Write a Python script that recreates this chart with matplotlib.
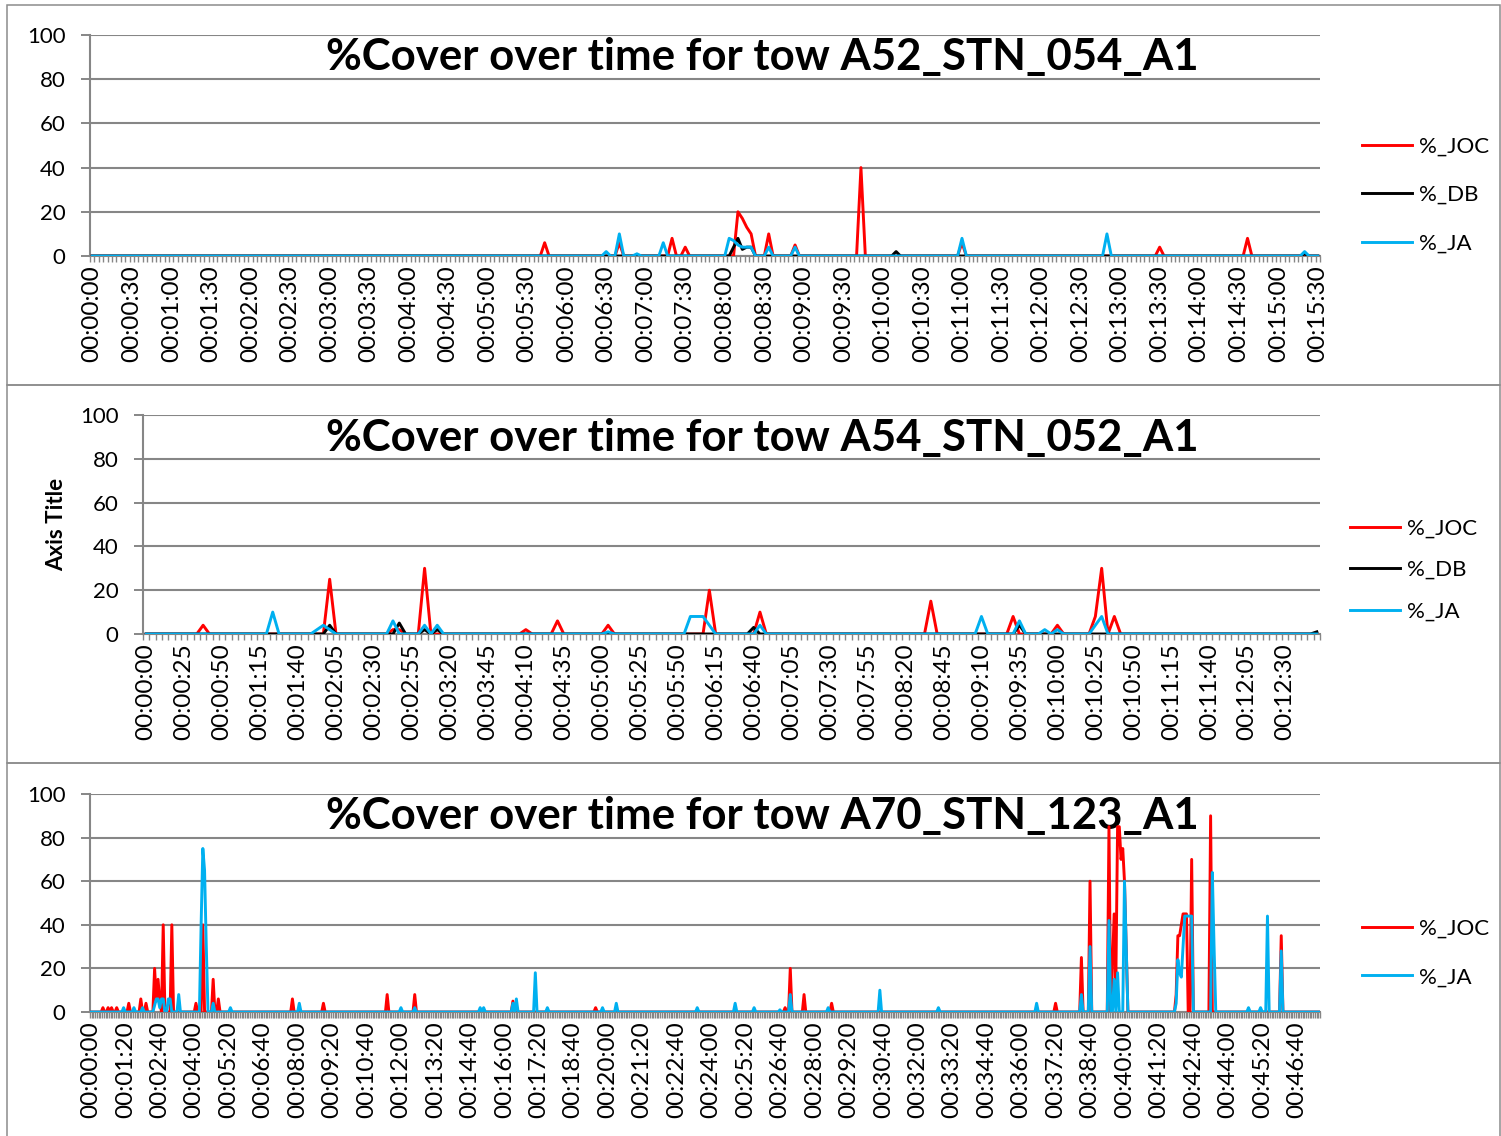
import numpy as np
import matplotlib
matplotlib.use("Agg")
import matplotlib.pyplot as plt
from matplotlib.patches import Rectangle

plt.rcParams['font.family'] = ['Lato', 'DejaVu Sans']

# ---- data: sample number along each tow and % cover at that sample (all other samples are 0) ----
# tow A52_STN_054_A1
p1_n = 280
p1_labels = ("00:00:00 00:00:30 00:01:00 00:01:30 00:02:00 00:02:30 00:03:00 00:03:30 "
             "00:04:00 00:04:30 00:05:00 00:05:30 00:06:00 00:06:30 00:07:00 00:07:30 "
             "00:08:00 00:08:30 00:09:00 00:09:30 00:10:00 00:10:30 00:11:00 00:11:30 "
             "00:12:00 00:12:30 00:13:00 00:13:30 00:14:00 00:14:30 00:15:00 00:15:30").split()
p1_joc_at = [103, 120, 132, 135, 147, 148, 149, 150, 154, 160, 175, 198, 243, 263]
p1_joc = [6, 6, 8, 4, 20, 17, 13, 10, 10, 5, 40, 6, 4, 8]
p1_db_at = [146, 147, 148, 149, 150, 183, 276]
p1_db = [4, 8, 3, 4, 4, 2, 1]
p1_ja_at = [117, 120, 124, 130, 145, 146, 147, 148, 149, 150, 154, 160, 198, 231, 276]
p1_ja = [2, 10, 1, 6, 8, 7, 5, 4, 4, 4, 4, 4, 8, 10, 2]

# tow A54_STN_052_A1
p2_n = 186
p2_labels = ("00:00:00 00:00:25 00:00:50 00:01:15 00:01:40 00:02:05 00:02:30 00:02:55 "
             "00:03:20 00:03:45 00:04:10 00:04:35 00:05:00 00:05:25 00:05:50 00:06:15 "
             "00:06:40 00:07:05 00:07:30 00:07:55 00:08:20 00:08:45 00:09:10 00:09:35 "
             "00:10:00 00:10:25 00:10:50 00:11:15 00:11:40 00:12:05 00:12:30").split()
p2_joc_at = [9, 29, 39, 40, 44, 60, 65, 73, 89, 97, 124, 137, 144, 150, 151, 153]
p2_joc = [4, 25, 2, 2, 30, 2, 6, 4, 20, 10, 15, 8, 4, 8, 30, 8]
p2_db_at = [29, 40, 44, 46, 96, 138, 185]
p2_db = [4, 5, 2, 2, 3, 4, 1]
p2_ja_at = [20, 27, 28, 29, 39, 44, 46, 73, 86, 87, 88, 89, 97, 132, 138, 142, 144, 150, 151]
p2_ja = [10, 2, 4, 2, 6, 4, 4, 1, 8, 8, 8, 4, 4, 8, 6, 2, 2, 4, 8]

# tow A70_STN_123_A1
p3_n = 714
p3_labels = ("00:00:00 00:01:20 00:02:40 00:04:00 00:05:20 00:06:40 00:08:00 00:09:20 "
             "00:10:40 00:12:00 00:13:20 00:14:40 00:16:00 00:17:20 00:18:40 00:20:00 "
             "00:21:20 00:22:40 00:24:00 00:25:20 00:26:40 00:28:00 00:29:20 00:30:40 "
             "00:32:00 00:33:20 00:34:40 00:36:00 00:37:20 00:38:40 00:40:00 00:41:20 "
             "00:42:40 00:44:00 00:45:20 00:46:40").split()
p3_joc_at = [7, 10, 12, 15, 22, 29, 32, 37, 38, 39, 40, 42, 47, 61, 65, 71, 74, 117, 135,
             172, 188, 245, 293, 403, 406, 414, 430, 560, 575, 580, 591, 593, 594, 595,
             596, 597, 598, 599, 600, 601, 630, 631, 632, 633, 634, 635, 636, 639, 650, 691]
p3_joc = [2, 2, 2, 2, 4, 6, 4, 20, 5, 15, 5, 40, 40, 4, 40, 15, 6, 6, 4,
          8, 8, 5, 2, 2, 20, 8, 4, 4, 25, 60, 85, 20, 45, 15,
          85, 85, 70, 75, 60, 30, 8, 35, 35, 40, 45, 45, 45, 70, 90, 35]
p3_ja_at = [19, 25, 30, 37, 38, 39, 40, 41, 42, 45, 46, 51, 64, 65, 66, 67, 71, 81, 121,
            180, 188, 226, 228, 245, 247, 258, 265, 297, 305, 352, 374, 385, 400, 406,
            428, 458, 492, 549, 575, 580, 591, 594, 596, 600, 601, 630, 631, 632, 633,
            634, 635, 636, 637, 638, 639, 651, 652, 672, 679, 683, 691]
p3_ja = [2, 2, 2, 3, 6, 6, 2, 6, 6, 6, 6, 8, 40, 75, 65, 30, 4, 2, 4,
         2, 2, 2, 2, 4, 6, 18, 2, 2, 4, 2, 4, 2, 1, 8,
         2, 10, 2, 4, 8, 30, 42, 15, 18, 60, 30, 4, 24, 18, 16,
         30, 44, 44, 44, 44, 44, 64, 30, 2, 2, 44, 28]

# ---- layout ----
W, H = 1501, 1136
GRID = '#868686'
COLORS = {'%_JOC': '#FF0000', '%_DB': '#000000', '%_JA': '#00B0F0'}
FS = 16

fig = plt.figure(figsize=(W / 100, H / 100), dpi=100)


def px_rect(x0, x1, ytop, ybot):
    return [x0 / W, 1 - ybot / H, (x1 - x0) / W, (ybot - ytop) / H]


def panel(rect, n, every, labels, series, title, title_y, leg_x, leg_y, leg_space):
    ax = fig.add_axes(rect)
    x = np.arange(n)
    for name, at, vals in series:
        y = np.zeros(n)
        y[at] = vals
        ax.plot(x, y, color=COLORS[name], lw=2.1, label=name, zorder=3)
    ax.set_xlim(-0.5, n - 0.5)
    ax.set_ylim(0, 100)
    ax.set_yticks(range(0, 101, 20))
    ax.set_xticks(np.arange(len(labels)) * every)
    ax.set_xticklabels(labels, rotation=90, fontsize=17.5)
    ax.set_xticks(np.arange(n + 1) - 0.5, minor=True)
    ax.tick_params(axis='x', which='major', length=0, pad=7)
    ax.tick_params(axis='x', which='minor', length=4.5, width=1.0, color=GRID)
    ax.tick_params(axis='y', length=6.5, width=1.4, color=GRID, pad=11, labelsize=FS)
    ax.grid(axis='y', color=GRID, lw=1.5)
    ax.set_axisbelow(True)
    for s in ('top', 'right'):
        ax.spines[s].set_visible(False)
    for s in ('left', 'bottom'):
        ax.spines[s].set_color(GRID)
        ax.spines[s].set_linewidth(1.5)
    ax.text(762 / W, 1 - title_y / H, title, transform=fig.transFigure, ha='center',
            va='center', fontsize=31.5, fontweight='bold', zorder=1)
    ax.legend(loc='center left', bbox_to_anchor=(leg_x / W, 1 - leg_y / H),
              bbox_transform=fig.transFigure, frameon=False, fontsize=FS,
              borderpad=0, borderaxespad=0, handlelength=2.25, handletextpad=0.3,
              labelspacing=leg_space)
    return ax


panel(px_rect(90, 1320, 35, 256), p1_n, 9, p1_labels,
      [('%_JOC', p1_joc_at, p1_joc), ('%_DB', p1_db_at, p1_db), ('%_JA', p1_ja_at, p1_ja)],
      '%Cover over time for tow A52_STN_054_A1', 57, 1362, 195, 1.28)

panel(px_rect(143, 1320, 415, 634), p2_n, 6, p2_labels,
      [('%_JOC', p2_joc_at, p2_joc), ('%_DB', p2_db_at, p2_db), ('%_JA', p2_ja_at, p2_ja)],
      '%Cover over time for tow A54_STN_052_A1', 438, 1350, 570, 0.97)
fig.text(57 / W, 1 - 524 / H, 'Axis Title', rotation=90, ha='center', va='center',
         fontsize=FS, fontweight='bold')

panel(px_rect(90, 1320, 794, 1012), p3_n, 20, p3_labels,
      [('%_JOC', p3_joc_at, p3_joc), ('%_JA', p3_ja_at, p3_ja)],
      '%Cover over time for tow A70_STN_123_A1', 816, 1362, 953, 1.28)

# chart frames
for top, bot in [(5, 385), (385, 763), (763, 1140)]:
    fig.add_artist(Rectangle((7 / W, 1 - bot / H), (1500 - 7) / W, (bot - top) / H,
                             transform=fig.transFigure, fill=False, ec='#8c8c8c', lw=1.1))

fig.savefig('out.png', dpi=100)
